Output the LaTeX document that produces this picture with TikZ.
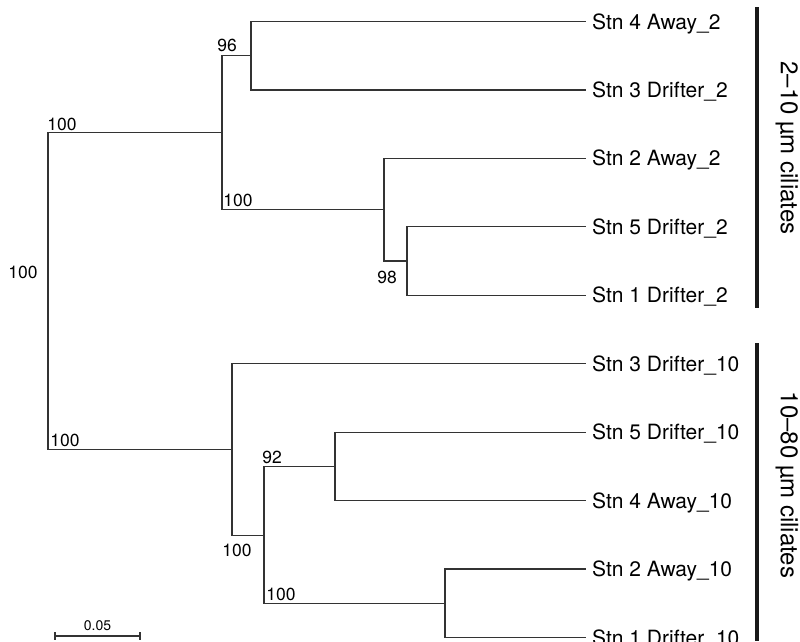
\documentclass[tikz,border=0pt]{standalone}
\usepackage{fontspec}
\setmainfont{TeX Gyre Heros}

\begin{document}
\begin{tikzpicture}
        [x=1pt,y=-1pt,
        tree/.style={line width=1.2pt,draw=black!80},
        bar/.style={line width=4pt,draw=black!90},
        leaf/.style={anchor=west,inner sep=0,inner xsep=6pt,text height=15pt,text depth=0pt,font=\fontsize{21}{25}\selectfont},
        boot/.style={inner sep=0,font=\fontsize{17.5}{20}\selectfont},
        group/.style={rotate=-90,inner sep=0,font=\fontsize{24}{28}\selectfont}]

        \useasboundingbox (0,0) rectangle (800,641);

        % leaves
        \node[leaf] (l1) at (586,21.5) {Stn 4 Away\_2};
        \node[leaf] (l2) at (586,90) {Stn 3 Drifter\_2};
        \node[leaf] (l3) at (586,158.4) {Stn 2 Away\_2};
        \node[leaf] (l4) at (586,226.8) {Stn 5 Drifter\_2};
        \node[leaf] (l5) at (586,295.3) {Stn 1 Drifter\_2};
        \node[leaf] (l6) at (586,363.7) {Stn 3 Drifter\_10};
        \node[leaf] (l7) at (586,432.1) {Stn 5 Drifter\_10};
        \node[leaf] (l8) at (586,500.6) {Stn 4 Away\_10};
        \node[leaf] (l9) at (586,569) {Stn 2 Away\_10};
        \node[leaf] (l10) at (586,637.5) {Stn 1 Drifter\_10};

        % internal nodes
        \coordinate (n1) at (48,291);
        \coordinate (nA) at (222,132.6);
        \coordinate (nB) at (251,55.7);
        \coordinate (nC) at (384,209.5);
        \coordinate (nD) at (407,261);
        \coordinate (nE) at (232,449.5);
        \coordinate (nF) at (264,535.3);
        \coordinate (nG) at (335,466.4);
        \coordinate (nH) at (445,603.2);

        \draw[tree] (n1) |- (nA);
        \draw[tree] (n1) |- (nE);
        \draw[tree] (nA) |- (nB);
        \draw[tree] (nA) |- (nC);
        \draw[tree] (nB) |- (l1.west);
        \draw[tree] (nB) |- (l2.west);
        \draw[tree] (nC) |- (l3.west);
        \draw[tree] (nC) |- (nD);
        \draw[tree] (nD) |- (l4.west);
        \draw[tree] (nD) |- (l5.west);
        \draw[tree] (nE) |- (l6.west);
        \draw[tree] (nE) |- (nF);
        \draw[tree] (nF) |- (nG);
        \draw[tree] (nF) |- (nH);
        \draw[tree] (nG) |- (l7.west);
        \draw[tree] (nG) |- (l8.west);
        \draw[tree] (nH) |- (l9.west);
        \draw[tree] (nH) |- (l10.west);

        % bootstrap values
        \node[boot] (b1) at (23,272) {100};
        \node[boot] (b2) at (62,124) {100};
        \node[boot] (b3) at (227,45) {96};
        \node[boot] (b4) at (238,200) {100};
        \node[boot] (b5) at (387,277) {98};
        \node[boot] (b6) at (65,440) {100};
        \node[boot] (b7) at (272,457) {92};
        \node[boot] (b8) at (237,550) {100};
        \node[boot] (b9) at (281,594) {100};

        % size classes
        \draw[bar] (757,7) -- (757,308);
        \draw[bar] (757,343) -- (757,641);
        \node[group] (g1) at (787,148) {2–10 µm ciliates};
        \node[group] (g2) at (787,485) {10–80 µm ciliates};

        % scale
        \draw[tree] (55,636) -- (140,636);
        \draw[tree] (55,632) -- (55,640);
        \draw[tree] (140,632) -- (140,640);
        \node[inner sep=0,font=\fontsize{14}{16}\selectfont] (s1) at (97.5,626) {0.05};

      \end{tikzpicture}
\end{document}
